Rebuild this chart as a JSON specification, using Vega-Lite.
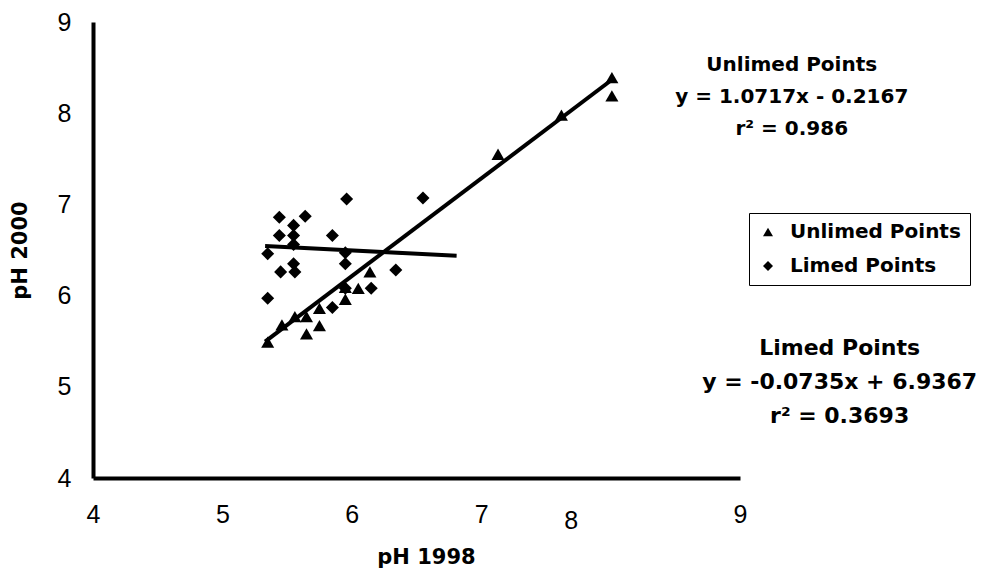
{
  "$schema": "https://vega.github.io/schema/vega-lite/v6.json",
  "width": 647,
  "height": 456,
  "autosize": {"type": "none"},
  "padding": {"left": 93, "top": 22, "right": 246, "bottom": 93},
  "background": "white",
  "config": {
    "view": {"stroke": null},
    "axis": {"grid": false, "ticks": false, "domainColor": "black", "domainWidth": 4, "labelColor": "black", "titleColor": "black"}
  },
  "datasets": {
    "points": [
      {"group": "Limed Points", "ph1998": 5.96, "ph2000": 7.06},
      {"group": "Limed Points", "ph1998": 6.55, "ph2000": 7.07},
      {"group": "Limed Points", "ph1998": 5.44, "ph2000": 6.86},
      {"group": "Limed Points", "ph1998": 5.64, "ph2000": 6.87},
      {"group": "Limed Points", "ph1998": 5.55, "ph2000": 6.77},
      {"group": "Limed Points", "ph1998": 5.44, "ph2000": 6.66},
      {"group": "Limed Points", "ph1998": 5.55, "ph2000": 6.66},
      {"group": "Limed Points", "ph1998": 5.85, "ph2000": 6.66},
      {"group": "Limed Points", "ph1998": 5.55, "ph2000": 6.56},
      {"group": "Limed Points", "ph1998": 5.35, "ph2000": 6.46},
      {"group": "Limed Points", "ph1998": 5.95, "ph2000": 6.47},
      {"group": "Limed Points", "ph1998": 5.95, "ph2000": 6.35},
      {"group": "Limed Points", "ph1998": 5.55, "ph2000": 6.35},
      {"group": "Limed Points", "ph1998": 5.45, "ph2000": 6.26},
      {"group": "Limed Points", "ph1998": 5.56, "ph2000": 6.26},
      {"group": "Limed Points", "ph1998": 6.34, "ph2000": 6.28},
      {"group": "Limed Points", "ph1998": 6.15, "ph2000": 6.08},
      {"group": "Limed Points", "ph1998": 5.35, "ph2000": 5.97},
      {"group": "Limed Points", "ph1998": 5.85, "ph2000": 5.87},
      {"group": "Limed Points", "ph1998": 5.95, "ph2000": 6.08},
      {"group": "Unlimed Points", "ph1998": 5.35, "ph2000": 5.49},
      {"group": "Unlimed Points", "ph1998": 5.46, "ph2000": 5.68},
      {"group": "Unlimed Points", "ph1998": 5.56, "ph2000": 5.77},
      {"group": "Unlimed Points", "ph1998": 5.65, "ph2000": 5.77},
      {"group": "Unlimed Points", "ph1998": 5.65, "ph2000": 5.58},
      {"group": "Unlimed Points", "ph1998": 5.75, "ph2000": 5.86},
      {"group": "Unlimed Points", "ph1998": 5.75, "ph2000": 5.67},
      {"group": "Unlimed Points", "ph1998": 5.95, "ph2000": 5.96},
      {"group": "Unlimed Points", "ph1998": 5.95, "ph2000": 6.09},
      {"group": "Unlimed Points", "ph1998": 6.05, "ph2000": 6.08},
      {"group": "Unlimed Points", "ph1998": 6.14, "ph2000": 6.26},
      {"group": "Unlimed Points", "ph1998": 7.13, "ph2000": 7.55},
      {"group": "Unlimed Points", "ph1998": 7.62, "ph2000": 7.98},
      {"group": "Unlimed Points", "ph1998": 8.01, "ph2000": 8.39},
      {"group": "Unlimed Points", "ph1998": 8.01, "ph2000": 8.19}
    ],
    "fits": [
      {"group": "Unlimed Points", "ph1998": 5.33, "ph2000": 5.496},
      {"group": "Unlimed Points", "ph1998": 8.02, "ph2000": 8.378},
      {"group": "Limed Points", "ph1998": 5.33, "ph2000": 6.545},
      {"group": "Limed Points", "ph1998": 6.81, "ph2000": 6.436}
    ]
  },
  "layer": [
    {
      "data": {"name": "fits"},
      "mark": {"type": "line", "color": "black", "strokeWidth": 4, "clip": false},
      "encoding": {
        "x": {
          "field": "ph1998", "type": "quantitative",
          "scale": {"domain": [4, 9], "nice": false, "zero": false},
          "axis": {
            "title": "pH 1998",
            "titleFont": "DejaVu Sans", "titleFontWeight": "bold", "titleFontSize": 21,
            "titleX": 333, "titleY": 79, "titleAlign": "center", "titleBaseline": "middle",
            "values": [4, 5, 6, 7, 8, 9],
            "labelExpr": "'' + round(datum.value)",
            "labelFont": "Liberation Sans",
            "labelFontSize": 25,
            "labelPadding": {"condition": {"test": "datum.value > 7.5 && datum.value < 8.5", "value": 30}, "value": 24},
            "labelOffset": {"condition": {"test": "datum.value > 7.5 && datum.value < 8.5", "value": -40}, "value": 0},
            "labelFlush": false,
            "labelOverlap": false
          }
        },
        "y": {
          "field": "ph2000", "type": "quantitative",
          "scale": {"domain": [4, 9], "nice": false, "zero": false},
          "axis": {
            "title": "pH 2000",
            "titleFont": "DejaVu Sans", "titleFontWeight": "bold", "titleFontSize": 21,
            "titleX": -73, "titleY": 228, "titleAngle": -90, "titleAlign": "center", "titleBaseline": "middle",
            "values": [4, 5, 6, 7, 8, 9],
            "labelExpr": "'' + round(datum.value)",
            "labelFont": "Liberation Sans",
            "labelFontSize": 25,
            "labelPadding": 22,
            "labelFlush": false,
            "labelOverlap": false
          }
        },
        "detail": {"field": "group", "type": "nominal"}
      }
    },
    {
      "data": {"name": "points"},
      "mark": {"type": "point", "filled": true, "color": "black", "opacity": 1, "size": 170, "clip": false},
      "encoding": {
        "x": {"field": "ph1998", "type": "quantitative"},
        "y": {"field": "ph2000", "type": "quantitative"},
        "shape": {
          "field": "group", "type": "nominal",
          "scale": {"domain": ["Unlimed Points", "Limed Points"], "range": ["triangle-up", "diamond"]},
          "legend": {
            "title": null, "orient": "none", "legendX": 656, "legendY": 191,
            "strokeColor": "black", "fillColor": "white", "padding": 9,
            "labelFont": "DejaVu Sans", "labelFontWeight": "bold", "labelFontSize": 20, "labelColor": "black",
            "labelLimit": 400, "labelOffset": 12,
            "symbolSize": 100, "symbolFillColor": "black", "symbolStrokeColor": "black",
            "rowPadding": 14,
            "encode": {"legend": {"update": {"strokeWidth": {"value": 2}}}}
          }
        }
      }
    },
    {
      "data": {"values": [{}]},
      "mark": {"type": "text", "font": "DejaVu Sans", "fontWeight": "bold", "fontSize": 20, "lineHeight": 32, "align": "center", "baseline": "middle", "color": "black", "clip": false},
      "encoding": {
        "x": {"datum": 9.4, "type": "quantitative"},
        "y": {"datum": 8.53, "type": "quantitative"},
        "text": {"value": ["Unlimed Points", "y = 1.0717x - 0.2167", "r² = 0.986"]}
      }
    },
    {
      "data": {"values": [{}]},
      "mark": {"type": "text", "font": "DejaVu Sans", "fontWeight": "bold", "fontSize": 22, "lineHeight": 34, "align": "center", "baseline": "middle", "color": "black", "clip": false},
      "encoding": {
        "x": {"datum": 9.77, "type": "quantitative"},
        "y": {"datum": 5.43, "type": "quantitative"},
        "text": {"value": ["Limed Points", "y = -0.0735x + 6.9367", "r² = 0.3693"]}
      }
    }
  ]
}
